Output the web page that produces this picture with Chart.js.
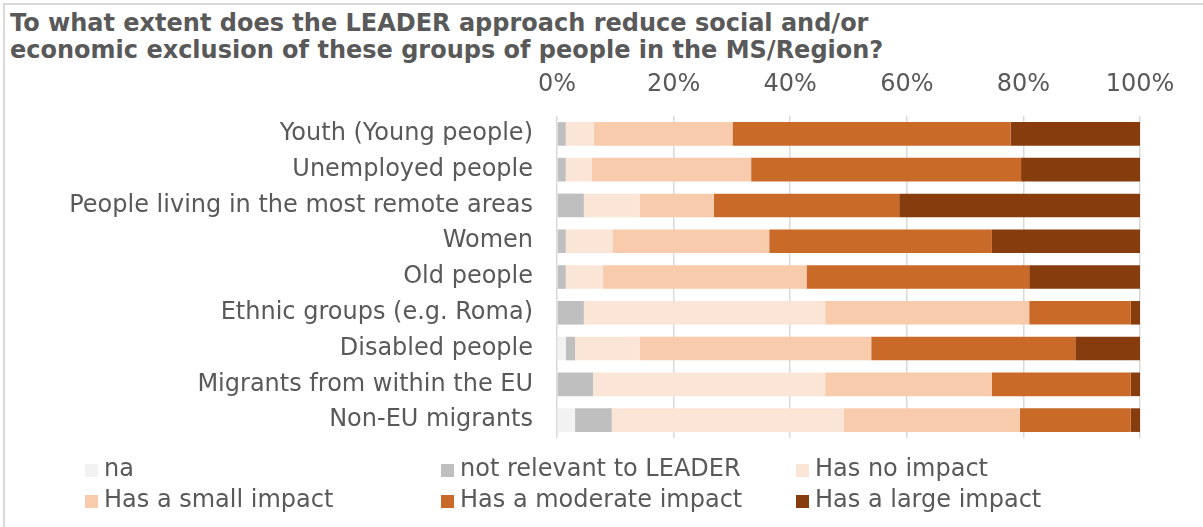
<!DOCTYPE html>
<html>
<head>
<meta charset="utf-8">
<title>LEADER approach and social exclusion</title>
<script src="https://cdn.jsdelivr.net/npm/chart.js@4.4.1/dist/chart.umd.min.js"></script>
<style>
  html, body { margin: 0; padding: 0; background: #fff; }
  #wrap { position: relative; width: 1203px; height: 527px; overflow: hidden; }
  #frame {
    position: absolute; left: 3px; top: 3px; width: 1300px; height: 600px;
    border-left: 2px solid #d9d9d9; border-top: 2px solid #d9d9d9;
  }
  #title {
    position: absolute; left: 10px; top: 10px;
    font: bold 24px "DejaVu Sans", sans-serif; line-height: 26.5px; color: #595959;
    white-space: nowrap;
  }
  #myChart { position: absolute; left: 0; top: 0; }
  .item {
    position: absolute; height: 31px; line-height: 31px;
    font: 24px "DejaVu Sans", sans-serif; color: #595959; white-space: nowrap;
  }
  .box { display: inline-block; width: 13px; height: 13px; margin-right: 6px; vertical-align: -1px; }
</style>
</head>
<body>
<div id="wrap">
  <div id="frame"></div>
  <div id="title">To what extent does the LEADER approach reduce social and/or<br>economic exclusion of these groups of people in the MS/Region?</div>
  <canvas id="myChart" width="1203" height="527"></canvas>
  <div id="legend"></div>
</div>
<script>
// categories (top to bottom)
const categories = [
  "Youth (Young people)",
  "Unemployed people",
  "People living in the most remote areas",
  "Women",
  "Old people",
  "Ethnic groups (e.g. Roma)",
  "Disabled people",
  "Migrants from within the EU",
  "Non-EU migrants",
];

// series names
const seriesNames = [
  "na",
  "not relevant to LEADER",
  "Has no impact",
  "Has a small impact",
  "Has a moderate impact",
  "Has a large impact",
];

// values in %
const na = [0, 0, 0, 0, 0, 0, 1.5, 0, 3.1];
const notRelevant = [1.5, 1.5, 4.6, 1.5, 1.5, 4.6, 1.6, 6.2, 6.3];
const noImpact = [4.8, 4.5, 9.6, 8.0, 6.4, 41.4, 11.1, 39.8, 39.8];
const smallImpact = [23.8, 27.3, 12.7, 26.9, 34.9, 35.0, 39.7, 28.6, 30.2];
const moderateImpact = [47.7, 46.3, 31.8, 38.2, 38.2, 17.4, 35.0, 23.8, 19.0];
const largeImpact = [22.2, 20.4, 41.3, 25.4, 19.0, 1.6, 11.1, 1.6, 1.6];

// tick labels
const tickLabels = ["0%", "20%", "40%", "60%", "80%", "100%"];

const colors = ["#f2f2f2", "#bfbfbf", "#fbe5d6", "#f8cbad", "#c96a28", "#873c0d"];
const values = [na, notRelevant, noImpact, smallImpact, moderateImpact, largeImpact];

const datasets = values.map(function (v, i) {
  return {
    label: seriesNames[i],
    data: v,
    backgroundColor: colors[i],
    borderWidth: 0,
    barPercentage: 0.66,
    categoryPercentage: 1,
  };
});

const ctx = document.getElementById("myChart");

const chart = new Chart(ctx, {
  type: "bar",
  data: {
    labels: categories,
    datasets: datasets,
  },
  options: {
    indexAxis: "y",
    responsive: false,
    animation: false,
    layout: {
      padding: { left: 0, top: 0, right: 63, bottom: 89 },
    },
    plugins: {
      legend: { display: false },
      tooltip: { enabled: false },
      title: { display: false },
    },
    scales: {
      x: {
        position: "top",
        stacked: true,
        min: 0,
        max: 100,
        afterFit: function (scale) {
          scale.height = 116;
        },
        ticks: {
          stepSize: 20,
          padding: 17,
          color: "#595959",
          font: { family: "DejaVu Sans", size: 24 },
          callback: function (value, index) {
            return tickLabels[index];
          },
        },
        grid: {
          color: "#d9d9d9",
          lineWidth: 1.5,
          drawTicks: false,
        },
        border: { display: false },
      },
      y: {
        stacked: true,
        afterFit: function (scale) {
          scale.width = 557;
        },
        ticks: {
          padding: 24,
          color: "#595959",
          font: { family: "DejaVu Sans", size: 24 },
        },
        grid: { display: false, drawTicks: false },
        border: { display: false },
      },
    },
  },
});

// legend in a 3 x 2 grid, built from the datasets
const legend = document.getElementById("legend");
const colLeft = [85, 441, 796];
const rowTop = [453.5, 484.5];
chart.data.datasets.forEach(function (ds, i) {
  const item = document.createElement("div");
  item.className = "item";
  item.style.left = colLeft[i % 3] + "px";
  item.style.top = rowTop[Math.floor(i / 3)] + "px";
  const box = document.createElement("span");
  box.className = "box";
  box.style.background = ds.backgroundColor;
  item.appendChild(box);
  item.appendChild(document.createTextNode(ds.label));
  legend.appendChild(item);
});
</script>
</body>
</html>
